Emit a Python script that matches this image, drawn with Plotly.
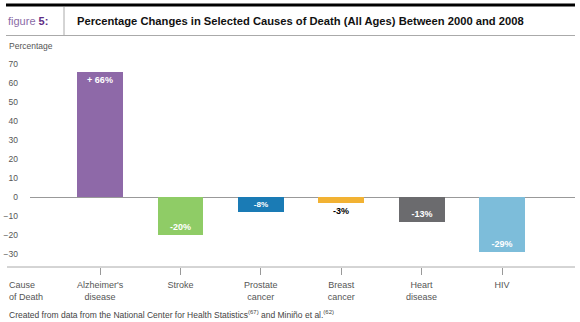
import plotly.graph_objects as go

categories = ["Alzheimer's<br>disease", "Stroke", "Prostate<br>cancer", "Breast<br>cancer", "Heart<br>disease", "HIV"]
values = [66, -20, -8, -3, -13, -29]
labels = ["+ 66%", "-20%", "-8%", "-3%", "-13%", "-29%"]
colors = ["#8e69a8", "#8fcc66", "#1a7bb5", "#f2b233", "#6b6b6e", "#7dbdda"]
label_colors = ["white", "white", "white", "black", "white", "white"]
label_pos = ["inside", "inside", "inside", "outside", "inside", "inside"]
ytick_vals = [70, 60, 50, 40, 30, 20, 10, 0, -10, -20, -30]

W, H = 580, 322
L, R, T, B = 30, 5, 59, 55

xs = list(range(len(categories)))
fig = go.Figure()
fig.add_trace(go.Bar(
    x=xs, y=values, width=0.57,
    marker=dict(color=colors, line=dict(width=0)),
    text=["<b>" + t + "</b>" for t in labels], textposition=label_pos,
    insidetextanchor="end",
    textfont=dict(family="Liberation Sans, Arial, sans-serif", size=9, color=label_colors),
    outsidetextfont=dict(family="Liberation Sans, Arial, sans-serif", size=9, color=label_colors),
    textangle=0, cliponaxis=False,
))

fig.update_layout(
    width=W, height=H, margin=dict(l=L, r=R, t=T, b=B),
    plot_bgcolor="white", paper_bgcolor="white",
    showlegend=False, bargap=0,
    font=dict(family="Liberation Sans, Arial, sans-serif", size=9, color="#555"),
)
fig.update_xaxes(
    range=[-0.871, 5.908], tickvals=xs, ticktext=categories,
    ticks="outside", ticklen=7, tickcolor="#999", tickwidth=1,
    ticklabelstandoff=2,
    showgrid=False, zeroline=False, showline=False,
    tickfont=dict(size=9, color="#555"), fixedrange=True,
)
fig.update_yaxes(
    range=[-36.84, 72.63], tickvals=ytick_vals,
    ticks="", ticklabelstandoff=11,
    showgrid=False, zeroline=True, zerolinecolor="#999", zerolinewidth=1,
    showline=False, tickfont=dict(size=8.5, color="#555"), fixedrange=True,
)

pw = W - L - R
ph = H - T - B
def px(xp):
    return (xp - L) / pw
def py(yp):
    return (H - B - yp) / ph

shapes = [
    dict(type="line", xref="paper", yref="paper", x0=px(6), x1=px(575), y0=py(5), y1=py(5),
         line=dict(color="black", width=3)),
    dict(type="line", xref="paper", yref="paper", x0=px(6), x1=px(575), y0=py(35.5), y1=py(35.5),
         line=dict(color="#aaa", width=1)),
    dict(type="line", xref="paper", yref="paper", x0=px(64), x1=px(64), y0=py(7), y1=py(35.5),
         line=dict(color="#aaa", width=1)),
    dict(type="line", xref="paper", yref="paper", x0=px(7), x1=px(575), y0=0, y1=0,
         line=dict(color="#aaa", width=1)),
]
fig.update_layout(shapes=shapes)

ann = [
    dict(text="<span style='color:#8a6aa6'>figure </span><b><span style='color:#5e2d85'>5:</span></b>",
         x=px(6), y=py(21), xanchor="left", yanchor="middle", font=dict(size=11)),
    dict(text="<b>Percentage Changes in Selected Causes of Death (All Ages) Between 2000 and 2008</b>",
         x=px(75), y=py(21), xanchor="left", yanchor="middle", font=dict(size=11.2, color="#111")),
    dict(text="Percentage", x=px(7), y=py(46), xanchor="left", yanchor="middle",
         font=dict(size=8.5, color="#555")),
    dict(text="Cause<br>of Death", x=px(7), y=py(291), xanchor="left", yanchor="middle", align="left",
         font=dict(size=9, color="#555")),
    dict(text="Created from data from the National Center for Health Statistics<sup>(67)</sup> and Miniño et al.<sup>(62)</sup>",
         x=px(7), y=py(314), xanchor="left", yanchor="middle", font=dict(size=8.5, color="#444")),
]
for a in ann:
    a.update(xref="paper", yref="paper", showarrow=False)
fig.update_layout(annotations=ann)

fig.write_html("out.html")
